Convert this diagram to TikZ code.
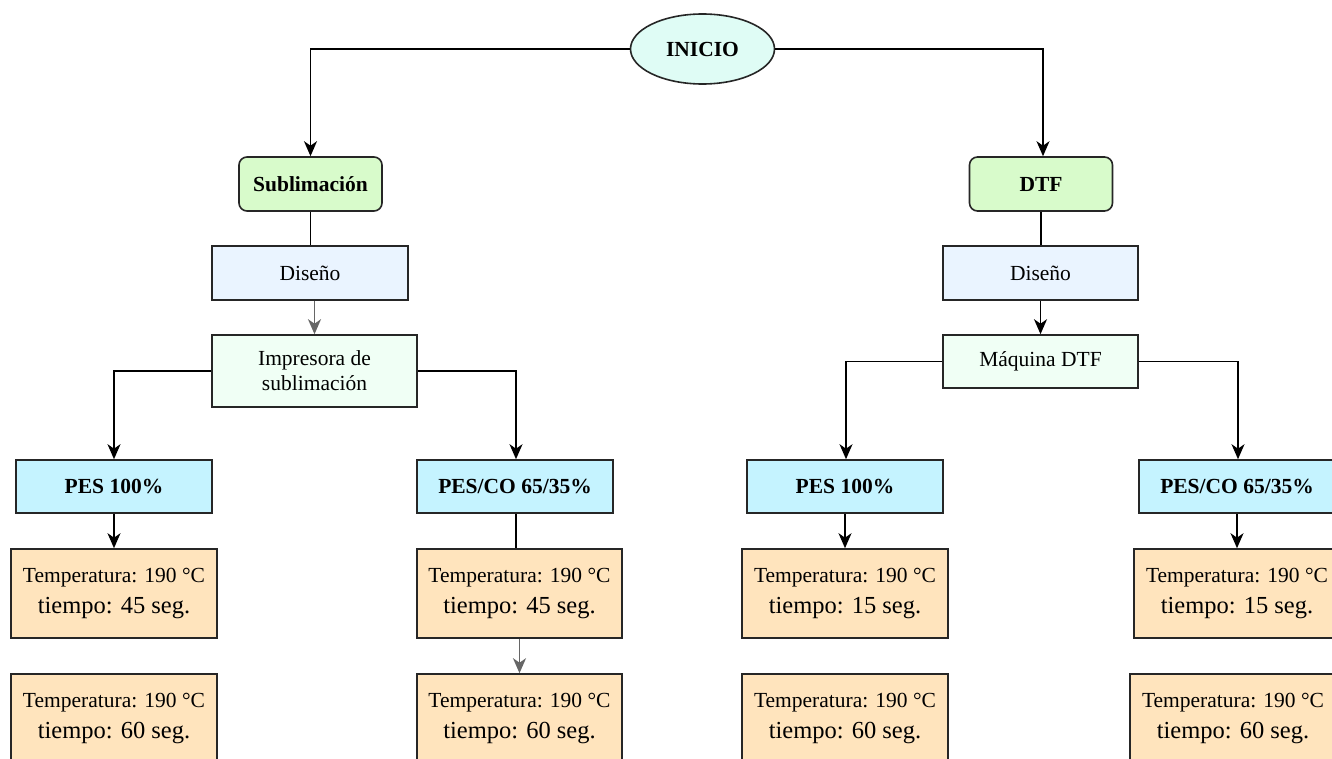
\documentclass[tikz,border=0pt]{standalone}
\usepackage{fontspec}
\setmainfont{Liberation Serif}
\usetikzlibrary{shapes.geometric,arrows.meta}
\definecolor{cIni}{HTML}{DFFCF5}
\definecolor{cGreen}{HTML}{D8FBCB}
\definecolor{cDis}{HTML}{EAF4FF}
\definecolor{cMach}{HTML}{F0FFF5}
\definecolor{cPes}{HTML}{C5F3FF}
\definecolor{cOr}{HTML}{FFE4BD}
\tikzset{
  base/.style={draw=black!85, line width=1.6pt, align=center, inner sep=0pt,
    font=\fontsize{21.5}{26}\selectfont},
  startnode/.style={base, ellipse, fill=cIni, minimum width=144pt, minimum height=70pt, font=\fontsize{21.5}{26}\selectfont\bfseries},
  methodbox/.style={base, rounded corners=8pt, fill=cGreen, minimum width=143pt, minimum height=54pt, font=\fontsize{21.5}{26}\selectfont\bfseries},
  disbox/.style={base, fill=cDis, minimum width=196pt, minimum height=54pt},
  machbox/.style={base, fill=cMach, minimum width=196pt, minimum height=53pt},
  pesbox/.style={base, fill=cPes, minimum width=196pt, minimum height=53pt, font=\fontsize{21.5}{26}\selectfont\bfseries},
  orbox/.style={base, fill=cOr, minimum width=206pt, minimum height=89pt, font=\fontsize{21.5}{31}\selectfont},
  conn/.style={line width=1.6pt, draw=black},
  arr/.style={conn, -{Stealth[length=15pt,width=13pt,inset=4.5pt]}},
  garr/.style={arr, draw=black!60},
}
\newcommand{\tempt}[1]{{\fontsize{21.5}{31}\selectfont Temperatura: 190 °C}\\{\fontsize{24.5}{31}\selectfont tiempo: #1 seg.}}
\begin{document}
\begin{tikzpicture}[x=1pt,y=-1pt]
\useasboundingbox (0,0) rectangle (1332,759);
\clip (0,0) rectangle (1332,759);
\fill[white] (0,0) rectangle (1332,759);

\node[startnode] (inicio) at (702.5,49) {INICIO};
\node[methodbox] (sub) at (310.5,184) {Sublimación};
\node[methodbox] (dtf) at (1041,184) {DTF};

\node[disbox] (dis1) at (310,273) {Diseño};
\node[disbox, minimum height=72pt, minimum width=205pt, fill=cMach] (imp) at (314.5,371) {Impresora de\\[-1pt]sublimación};
\node[disbox, minimum width=195pt] (dis2) at (1040.5,273) {Diseño};
\node[machbox, minimum width=195pt] (maq) at (1040.5,361.5) {Máquina DTF};

\node[pesbox] (pes1) at (114,486.5) {PES 100\%};
\node[pesbox] (pesco1) at (515,486.5) {PES/CO 65/35\%};
\node[pesbox] (pes2) at (845,486.5) {PES 100\%};
\node[pesbox] (pesco2) at (1237,486.5) {PES/CO 65/35\%};

\node[orbox] (o11) at (114,593.5) {\tempt{45}};
\node[orbox] (o12) at (114,718.5) {\tempt{60}};
\node[orbox, minimum width=205pt] (o21) at (519.5,593.5) {\tempt{45}};
\node[orbox, minimum width=205pt] (o22) at (519.5,718.5) {\tempt{60}};
\node[orbox] (o31) at (845,593.5) {\tempt{15}};
\node[orbox] (o32) at (845,718.5) {\tempt{60}};
\node[orbox] (o41) at (1237,593.5) {\tempt{15}};
\node[orbox] (o42) at (1233,718.5) {\tempt{60}};

\coordinate (dtfin) at ([xshift=2pt]dtf.north);
\coordinate (pc1in) at ([xshift=1pt]pesco1.north);
\coordinate (pc1out) at ([xshift=1pt]pesco1.south);
\coordinate (p2in) at ([xshift=1pt]pes2.north);
\coordinate (pc2in) at ([xshift=1pt]pesco2.north);

\draw[arr] (inicio.west) -| (sub.north);
\draw[arr] (inicio.east) -| (dtfin);
\draw[conn] (sub.south) -- (dis1.north -| sub.south);
\draw[conn] (dtf.south) -- (dis2.north -| dtf.south);
\draw[garr] (imp.north |- dis1.south) -- (imp.north);
\draw[arr] (dis2.south) -- (maq.north);
\draw[arr] (imp.west) -| (pes1.north);
\draw[arr] (imp.east) -| (pc1in);
\draw[arr] (maq.west) -| (p2in);
\draw[arr] (maq.east) -| (pc2in);
\draw[arr] (pes1.south) -- (o11.north -| pes1.south);
\draw[conn] (pc1out) -- (o21.north -| pc1out);
\draw[garr] (o21.south) -- (o22.north);
\draw[arr] (pes2.south) -- (o31.north -| pes2.south);
\draw[arr] (pesco2.south) -- (o41.north -| pesco2.south);
\end{tikzpicture}
\end{document}
